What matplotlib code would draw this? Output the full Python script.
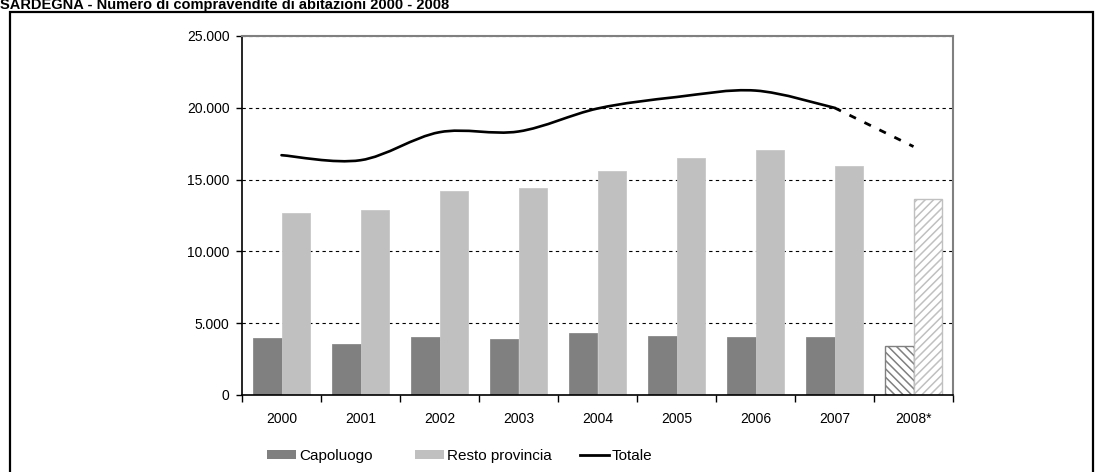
import matplotlib
matplotlib.use("Agg")
import matplotlib.pyplot as plt
import numpy as np
from matplotlib.lines import Line2D
from matplotlib.patches import Patch, PathPatch, Rectangle
from matplotlib.path import Path
from matplotlib.ticker import FuncFormatter

# compravendite di abitazioni, Sardegna (2008 = stima)
YEARS     = ["2000", "2001", "2002", "2003", "2004", "2005", "2006", "2007", "2008*"]
CAPOLUOGO = [3950, 3530, 4060, 3920, 4300, 4130, 4060, 4060, 3390]
RESTO     = [12650, 12860, 14180, 14390, 15610, 16530, 17080, 15950, 13630]
TOTALE    = [16700, 16350, 18300, 18350, 19950, 20750, 21200, 20000, 17300]
Y_TICKS   = [0, 5000, 10000, 15000, 20000, 25000]
N_OBS     = 8   # last year is an estimate

DARK, LIGHT = "#808080", "#c0c0c0"
W, H = 1101, 472

plt.rcParams["font.family"] = ["Liberation Sans Narrow", "Liberation Sans", "DejaVu Sans"]
plt.rcParams["hatch.linewidth"] = 1.1


def smooth_path(xs, ys):
    # excel-like "smoothed line": cubic bezier through every data point
    pts = np.column_stack([xs, ys]).astype(float)
    ext = np.vstack([pts[0], pts, pts[-1]])
    verts, codes = [pts[0]], [Path.MOVETO]
    for i in range(len(pts) - 1):
        p0, p1, p2, p3 = ext[i], ext[i + 1], ext[i + 2], ext[i + 3]
        verts += [p1 + (p2 - p0) / 6, p2 - (p3 - p1) / 6, p2]
        codes += [Path.CURVE4] * 3
    return Path(verts, codes)


fig = plt.figure(figsize=(W / 100, H / 100), dpi=100)
ax = fig.add_axes([242 / W, 77 / H, 711 / W, 359 / H])

x = np.arange(len(YEARS))
w = 0.355
cap = np.array(CAPOLUOGO); res = np.array(RESTO); tot = np.array(TOTALE)

ax.bar(x[:N_OBS] - w / 2, cap[:N_OBS], w, color=DARK, edgecolor="#8a8a8a", lw=0.6, zorder=2)
ax.bar(x[:N_OBS] + w / 2, res[:N_OBS], w, color=LIGHT, edgecolor="#c8c8c8", lw=0.6, zorder=2)
ax.bar(x[N_OBS:] - w / 2, cap[N_OBS:], w, facecolor="white", edgecolor=DARK,
       hatch="\\\\\\\\", lw=1.0, zorder=2)
ax.bar(x[N_OBS:] + w / 2, res[N_OBS:], w, facecolor="white", edgecolor=LIGHT,
       hatch="////", lw=1.0, zorder=2)

ax.add_patch(PathPatch(smooth_path(x[:N_OBS], tot[:N_OBS]), fill=False, ec="black",
                       lw=1.9, joinstyle="round", capstyle="round", zorder=4))
ax.plot(x[N_OBS - 1:], tot[N_OBS - 1:], color="black", lw=2.0,
        dashes=(2.6, 3.4), zorder=4)

ax.set_xlim(-0.5, len(YEARS) - 0.5)
ax.set_ylim(0, 25000)
ax.set_yticks(Y_TICKS)
ax.yaxis.set_major_formatter(FuncFormatter(lambda v, _: f"{v:,.0f}".replace(",", ".")))
ax.yaxis.grid(True, color="black", linestyle=(0, (3, 3)), lw=0.8)
ax.set_axisbelow(True)

ax.set_xticks(np.arange(-0.5, len(YEARS), 1.0))
ax.set_xticklabels([])
ax.set_xticks(x, minor=True)
ax.set_xticklabels(YEARS, minor=True)
ax.tick_params(axis="x", which="major", direction="out", length=5, width=1, color="black")
ax.tick_params(axis="x", which="minor", length=0, pad=12, labelsize=10)
ax.tick_params(axis="y", direction="out", length=4, width=1, color="black",
               labelsize=10, pad=5)

for s in ("top", "right"):
    ax.spines[s].set_color(DARK); ax.spines[s].set_linewidth(1.5)
for s in ("left", "bottom"):
    ax.spines[s].set_color("black"); ax.spines[s].set_linewidth(1.2)

# outer frame and title, squeezed into the strip above the frame
fig.add_artist(Rectangle((10 / W, -0.02), (1093 - 10) / W, (H - 12) / H + 0.02,
                         transform=fig.transFigure, fill=False, ec="black", lw=1.6))
fig.text(0.0, 1 - 9.5 / H, "SARDEGNA - Numero di compravendite di abitazioni 2000 - 2008",
         fontsize=10.5, fontweight="bold", family=["Liberation Sans", "DejaVu Sans"],
         va="baseline", ha="left")

# legend, one entry at a time so each sits where the original has it
entries = [
    (Patch(facecolor=DARK, edgecolor="none"), "Capoluogo", 267),
    (Patch(facecolor=LIGHT, edgecolor="none"), "Resto provincia", 415),
    (Line2D([], [], color="black", lw=2), "Totale", 580),
]
for handle, label, px in entries:
    fig.legend([handle], [label], loc="center left", bbox_to_anchor=(px / W, 1 - 456 / H),
               frameon=False, fontsize=11, borderpad=0, borderaxespad=0,
               handlelength=1.9, handleheight=0.55, handletextpad=0.2)

fig.savefig("out.png", dpi=100)
